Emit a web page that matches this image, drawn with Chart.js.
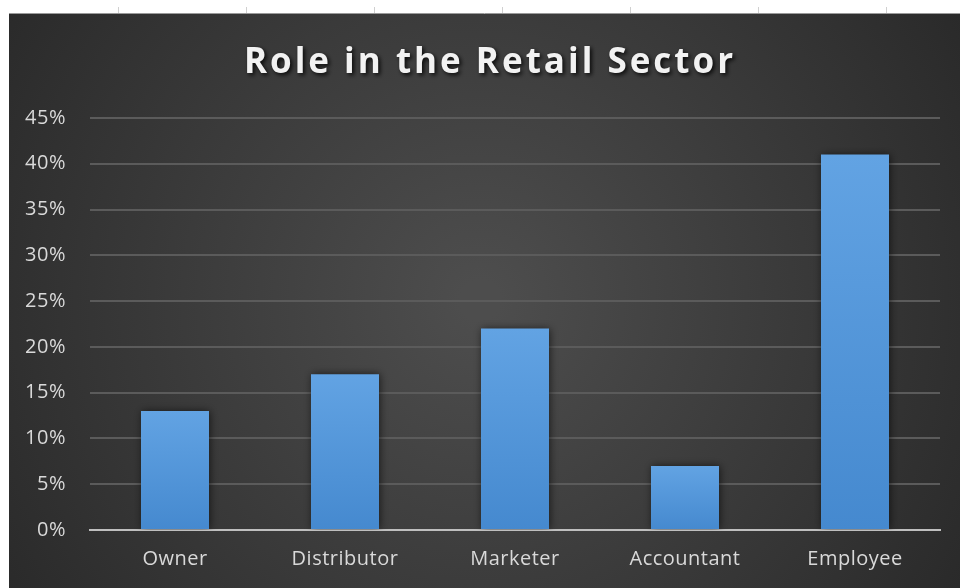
<!DOCTYPE html>
<html>
<head>
<meta charset="utf-8">
<script src="https://cdn.jsdelivr.net/npm/chart.js@4.4.1/dist/chart.umd.min.js"></script>
<style>
  html, body { margin: 0; padding: 0; background: #fff; }
  #wrap { position: relative; width: 960px; height: 588px; }
</style>
</head>
<body>
<div id="wrap"><canvas id="roleChart"></canvas></div>
<script>
// --- dados ---
const roles = ['Owner', 'Distributor', 'Marketer', 'Accountant', 'Employee'];
const shares = [13, 17, 22, 7, 41];
const yTicks = [0, 5, 10, 15, 20, 25, 30, 35, 40, 45];
const chartTitle = 'Role in the Retail Sector';

const FONT = "'Open Sans', 'Segoe UI', sans-serif";

// fundo escuro da planilha, título com sombra e espaçamento das letras
const sheetBg = {
    id: 'sheetBg',
    beforeDraw(chart) {
        const ctx = chart.ctx;
        const w = chart.width, h = chart.height;
        ctx.save();
        ctx.fillStyle = '#ffffff';
        ctx.fillRect(0, 0, w, h);
        // marcas das colunas no topo
        ctx.strokeStyle = '#d0d0d0';
        ctx.lineWidth = 1;
        for (let x = 118.5; x < w; x += 128) {
            ctx.beginPath(); ctx.moveTo(x, 7); ctx.lineTo(x, 14); ctx.stroke();
        }
        const g = ctx.createRadialGradient(480, 300, 20, 480, 300, 620);
        g.addColorStop(0, '#4d4d4d');
        g.addColorStop(1, '#262626');
        ctx.fillStyle = g;
        ctx.fillRect(9, 14, w - 9, h - 14);
        ctx.strokeStyle = '#9a9a9a';
        ctx.beginPath(); ctx.moveTo(9, 13.5); ctx.lineTo(w, 13.5); ctx.stroke();

        // título
        ctx.font = 'bold 35px ' + FONT;
        ctx.letterSpacing = '3px';
        ctx.textAlign = 'center';
        ctx.textBaseline = 'alphabetic';
        const tx = 490, ty = 73;
        ctx.shadowColor = 'rgba(0,0,0,0.85)';
        ctx.shadowBlur = 4;
        ctx.shadowOffsetX = 2;
        ctx.shadowOffsetY = 2;
        ctx.fillStyle = '#f2f2f2';
        ctx.fillText(chartTitle, tx, ty);
        ctx.restore();
        // rótulos dos eixos levemente espaçados
        ctx.letterSpacing = '0.5px';
    },
    beforeDatasetsDraw(chart) {
        const ctx = chart.ctx;
        ctx.save();
        ctx.shadowColor = 'rgba(0,0,0,0.6)';
        ctx.shadowBlur = 8;
        ctx.shadowOffsetX = 1;
    },
    afterDatasetsDraw(chart) {
        chart.ctx.restore();
    }
};

function barFill(c) {
    const chart = c.chart;
    if (!chart.chartArea || c.parsed == null) return '#5597d8';
    const y = chart.scales.y;
    const top = y.getPixelForValue(c.parsed.y);
    const base = y.getPixelForValue(0);
    const g = chart.ctx.createLinearGradient(0, top, 0, base);
    g.addColorStop(0, '#62a3e3');
    g.addColorStop(1, '#4589cf');
    return g;
}

new Chart(document.getElementById('roleChart'), {
    type: 'bar',
    data: {
        labels: roles,
        datasets: [{
            label: chartTitle,
            data: shares,
            backgroundColor: barFill,
            borderWidth: 0,
            barPercentage: 0.4,
            categoryPercentage: 1.0
        }]
    },
    options: {
        responsive: true, maintainAspectRatio: false,
        animation: false,
        layout: { padding: { left: 10, right: 20, top: 118, bottom: 0 } },
        plugins: {
            legend: { display: false },
            tooltip: { enabled: false },
            title: { display: false }
        },
        scales: {
            x: {
                grid: { display: false, drawTicks: false },
                border: { display: true, color: '#bfbfbf', width: 2 },
                ticks: { color: '#d9d9d9', font: { family: FONT, size: 20 }, padding: 17 }
            },
            y: {
                min: 0, max: 45,
                afterBuildTicks(scale) { scale.ticks = yTicks.map(v => ({ value: v })); },
                afterFit(scale) { scale.width = 80; },
                grid: {
                    drawTicks: false,
                    color: c => c.tick.value === 0 ? 'rgba(0,0,0,0)' : '#5b5b5b',
                    lineWidth: 2
                },
                border: { display: false },
                ticks: {
                    color: '#d9d9d9',
                    font: { family: FONT, size: 20 },
                    padding: 24,
                    callback: v => v + '%'
                }
            }
        }
    },
    plugins: [sheetBg]
});
</script>
</body>
</html>
